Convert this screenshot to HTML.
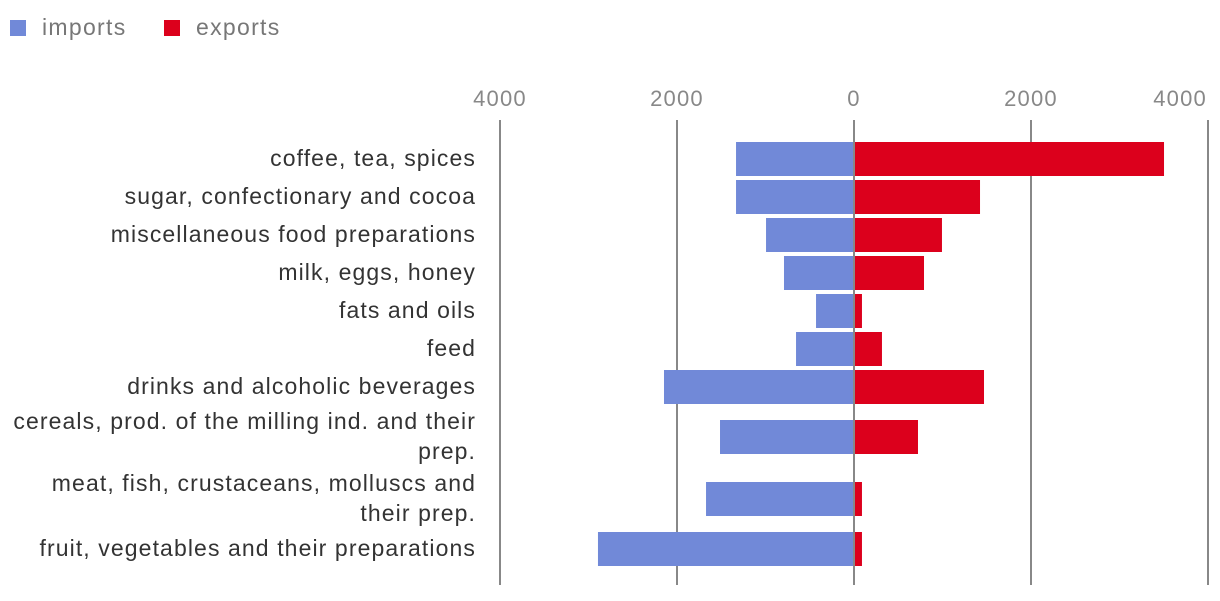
<!DOCTYPE html>
<html><head><meta charset="utf-8"><style>
body{margin:0;background:#fff;width:1220px;height:596px;overflow:hidden;font-family:"Liberation Sans",sans-serif}
</style></head><body>
<svg id="chart" width="1220" height="596" xmlns="http://www.w3.org/2000/svg">
<g>
<rect x="10" y="20" width="16" height="16" fill="#7189d8"/>
<text x="42" y="35" font-size="23" letter-spacing="1.3" fill="#777">imports</text>
<rect x="164" y="20" width="16" height="16" fill="#dc001c"/>
<text x="196" y="35" font-size="23" letter-spacing="1.3" fill="#777">exports</text>
</g>
<g id="grid"></g><g id="bars"></g><g id="labels"></g>
</svg>
<script>
const categories=[["coffee, tea, spices"],["sugar, confectionary and cocoa"],["miscellaneous food preparations"],["milk, eggs, honey"],["fats and oils"],["feed"],["drinks and alcoholic beverages"],["cereals, prod. of the milling ind. and their","prep."],["meat, fish, crustaceans, molluscs and","their prep."],["fruit, vegetables and their preparations"]];
const imports=[1333,1333,994,791,429,655,2147,1514,1672,2893];
const exports=[3503,1424,994,791,90,316,1469,723,90,90];
const ticks=[-4000,-2000,0,2000,4000];
const NS="http://www.w3.org/2000/svg";
const x=v=>854+v*0.0885;
function mk(t,a,p){const e=document.createElementNS(NS,t);for(const k in a)e.setAttribute(k,a[k]);p.appendChild(e);return e;}
const grid=document.getElementById('grid'),bars=document.getElementById('bars'),labels=document.getElementById('labels');
ticks.forEach((t,i)=>{
 const l=mk('line',{x1:x(t),x2:x(t),y1:120,y2:585,stroke:'#888','stroke-width':2},grid);
 
 
 const last=i===ticks.length-1;
 const tx=mk('text',{x:last?x(t)-1:x(t),y:106,'font-size':22,'letter-spacing':1.2,fill:'#888','text-anchor':last?'end':'middle'},grid);
 tx.textContent=Math.abs(t);
 
 
});
let c=159,prevExtra=0;
categories.forEach((cat,i)=>{
 const extra=(cat.length-1)*12;
 if(i>0)c+=38+prevExtra+extra;
 prevExtra=extra;
 const r1=mk('rect',{x:x(-imports[i]),y:c-17,width:x(0)-x(-imports[i]),height:34,fill:'#7189d8'},bars);
 
 
 const r2=mk('rect',{x:x(0),y:c-17,width:x(exports[i])-x(0),height:34,fill:'#dc001c'},bars);
 
 
 const n=cat.length;
 cat.forEach((s,j)=>{
  const t=mk('text',{x:476,y:c+7+(j-(n-1)/2)*30,'font-size':23,'letter-spacing':1.1,fill:'#333','text-anchor':'end'},labels);
  t.textContent=s;
  
  
 });
});
mk('line',{x1:854,x2:854,y1:120,y2:585,stroke:'#888','stroke-width':2},bars);
</script>
</body></html>
